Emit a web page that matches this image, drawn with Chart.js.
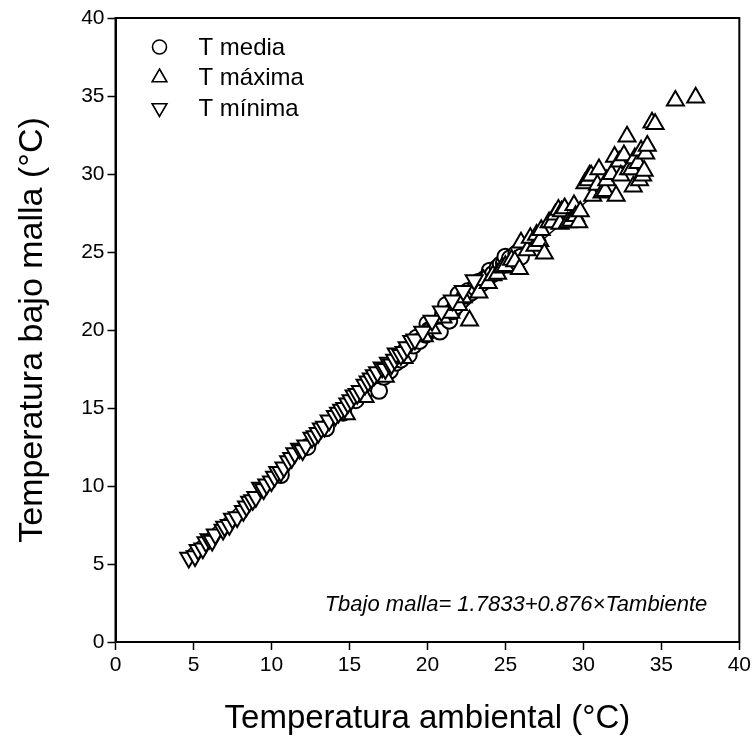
<!DOCTYPE html>
<html>
<head>
<meta charset="utf-8">
<script src="https://cdn.jsdelivr.net/npm/chart.js@4.4.0/dist/chart.umd.min.js"></script>
<style>
  html, body { margin: 0; padding: 0; background: #fff; }
</style>
</head>
<body>
<canvas id="grafica" width="754" height="748"></canvas>
<script>
// T media (circulos)
var mediaX = [10.6, 12.3, 13.5, 14.6, 15.4, 16.1, 16.5, 16.9, 17.2, 17.6, 18.0, 18.3, 18.6, 18.8, 19.1, 19.3,
              19.5, 19.9, 20.0, 20.1, 20.3, 20.5, 20.8, 21.0, 21.2, 21.4, 21.6, 21.8, 22.0, 22.1, 22.4, 22.6,
              22.8, 23.1, 23.3, 23.5, 23.7, 23.9, 24.0, 24.2, 24.5, 24.7, 24.9, 25.0, 25.3, 25.7, 26.0];
var mediaY = [10.7, 12.5, 13.7, 14.7, 15.5, 16.2, 16.6, 16.1, 17.0, 17.4, 17.9, 18.1, 18.7, 18.4, 19.0, 19.5,
              19.3, 19.7, 20.4, 20.0, 20.1, 20.3, 19.9, 21.0, 21.6, 20.6, 21.2, 21.5, 22.3, 21.8, 22.2, 22.5,
              22.4, 22.7, 23.1, 23.0, 23.3, 23.4, 23.8, 23.6, 24.0, 24.2, 24.3, 24.7, 24.6, 24.9, 24.7];

// T maxima (triangulos)
var maxX = [14.8, 16.0, 17.3, 18.5, 19.8, 20.3, 21.0, 21.5, 22.0, 22.3, 22.7, 23.3, 23.6, 23.9, 24.2, 24.5,
            24.8, 25.0, 25.4, 25.6, 25.9, 26.0, 26.4, 26.6, 26.9, 27.0, 27.2, 27.3, 27.5, 27.8, 28.0, 28.2,
            28.4, 28.5, 28.6, 28.8, 29.0, 29.2, 29.4, 29.5, 29.7, 29.8, 30.1, 30.3, 30.4, 30.5, 30.6, 30.9,
            31.0, 31.2, 31.4, 31.5, 31.8, 32.0, 32.1, 32.3, 32.4, 32.6, 32.8, 32.9, 33.1, 33.2, 33.3, 33.5,
            33.6, 33.7, 33.8, 33.9, 34.0, 34.1, 34.4, 34.6, 35.9, 37.2];
var maxY = [14.6, 15.7, 17.0, 18.2, 19.6, 20.1, 20.8, 21.1, 21.6, 22.1, 20.6, 22.4, 23.2, 23.0, 23.5, 23.6,
            24.0, 24.1, 24.5, 24.4, 23.9, 25.6, 25.1, 25.9, 25.4, 26.1, 25.7, 26.4, 24.9, 26.9, 26.9, 27.4,
            27.7, 26.8, 27.6, 27.8, 26.9, 27.0, 28.0, 27.3, 26.9, 27.6, 29.4, 29.6, 29.9, 29.9, 28.6, 29.3,
            30.3, 28.8, 28.9, 29.6, 30.0, 31.1, 28.6, 30.8, 29.9, 31.2, 32.4, 30.3, 30.3, 29.2, 31.0, 30.7,
            29.6, 31.5, 29.9, 30.2, 31.3, 31.8, 33.3, 33.2, 34.7, 34.9];

// T minima (triangulos invertidos)
var minX = [4.7, 5.1, 5.3, 5.6, 5.8, 6.0, 6.2, 6.4, 6.9, 7.0, 7.3, 7.5, 7.8, 8.2, 8.4, 8.6,
            8.8, 9.0, 9.3, 9.5, 9.7, 10.0, 10.2, 10.4, 10.6, 10.8, 11.1, 11.3, 11.5, 11.8, 12.0, 12.2,
            12.6, 12.8, 13.0, 13.2, 13.4, 13.7, 14.1, 14.3, 14.5, 14.7, 14.9, 15.1, 15.3, 15.5, 15.7, 16.0,
            16.2, 16.4, 16.6, 16.8, 17.1, 17.3, 17.5, 17.7, 17.9, 18.0, 18.3, 18.5, 18.7, 19.0, 19.2, 19.7,
            20.3, 20.9, 21.6, 22.3, 23.0];
var minY = [5.4, 5.5, 5.9, 6.0, 6.4, 6.6, 6.5, 6.9, 7.2, 7.4, 7.5, 7.9, 8.0, 8.4, 8.7, 9.0,
            9.1, 9.3, 9.9, 9.8, 10.1, 10.3, 10.6, 10.9, 10.9, 11.2, 11.6, 11.8, 12.1, 12.4, 12.3, 12.6,
            13.1, 13.2, 13.4, 13.7, 13.8, 14.2, 14.5, 14.7, 14.9, 15.0, 15.3, 15.5, 15.8, 15.9, 16.1, 16.5,
            16.7, 16.9, 17.1, 17.3, 17.6, 17.5, 17.9, 17.8, 18.1, 18.5, 18.4, 18.6, 18.9, 19.3, 19.4, 19.9,
            20.6, 21.2, 21.9, 22.5, 23.2];

// recta de regresion (extremos)
var rectaX = [4.6, 34.0];
var rectaY = [5.81, 31.57];

var ticksEjes = [0, 5, 10, 15, 20, 25, 30, 35, 40];
var ecuacion = 'Tbajo malla= 1.7833+0.876\u00D7Tambiente';
var etiquetas = ['T media', 'T m\u00E1xima', 'T m\u00EDnima'];

var fuente = '"Liberation Sans", Arial, sans-serif';

function puntos(xs, ys) {
    var r = [];
    for (var i = 0; i < xs.length; i++) r.push({ x: xs[i], y: ys[i] });
    return r;
}

function marcador(estilo, rot, radio) {
    return {
        showLine: false,
        pointStyle: estilo,
        rotation: rot,
        pointRadius: radio,
        pointBackgroundColor: '#fff',
        pointBorderColor: '#000',
        pointBorderWidth: 2
    };
}

var setMedia = Object.assign({ label: etiquetas[0], data: puntos(mediaX, mediaY) }, marcador('circle', 0, 8));
var setMax = Object.assign({ label: etiquetas[1], data: puntos(maxX, maxY) }, marcador('triangle', 0, 9.8));
var setMin = Object.assign({ label: etiquetas[2], data: puntos(minX, minY) }, marcador('triangle', 180, 9.8));

// marco, leyenda y ecuacion
var extras = {
    id: 'extras',
    afterDatasetsDraw: function(c) {
        var ctx = c.ctx, a = c.chartArea;
        ctx.save();
        ctx.strokeStyle = '#000';
        ctx.lineWidth = 2;
        ctx.strokeRect(a.left, a.top, a.right - a.left, a.bottom - a.top);

        var sets = [setMedia, setMax, setMin];
        var radios = [7, 8.5, 8.5];
        ctx.font = '24px ' + fuente;
        ctx.textBaseline = 'middle';
        for (var i = 0; i < sets.length; i++) {
            var yy = a.top + 29 + i * 30.5;
            ctx.fillStyle = '#fff';
            ctx.lineWidth = 1.6;
            Chart.helpers.drawPoint(ctx, {
                pointStyle: sets[i].pointStyle,
                rotation: sets[i].rotation,
                radius: radios[i],
                borderWidth: 1.6
            }, a.left + 44, yy);
            ctx.fillStyle = '#000';
            ctx.fillText(sets[i].label, a.left + 83, yy + 1);
        }

        ctx.font = 'italic 22px ' + fuente;
        ctx.textAlign = 'right';
        ctx.fillText(ecuacion, a.right - 32, a.bottom - 37);
        ctx.restore();
    }
};

var ctx = document.getElementById('grafica').getContext('2d');
var chart = new Chart(ctx, {
    type: 'scatter',
    data: {
        datasets: [
            setMin, setMax, setMedia,
            {
                label: 'recta',
                data: puntos(rectaX, rectaY),
                showLine: true,
                borderColor: '#000',
                borderWidth: 1.5,
                pointRadius: 0,
                order: 10
            }
        ]
    },
    options: {
        responsive: false,
        animation: false,
        layout: { padding: { top: 18, right: 13, left: 0, bottom: 0 } },
        plugins: {
            legend: { display: false },
            tooltip: { enabled: false }
        },
        scales: {
            x: {
                type: 'linear',
                min: 0,
                max: 40,
                afterBuildTicks: function(s) { s.ticks = ticksEjes.map(function(v) { return { value: v }; }); },
                afterFit: function(s) { s.height = 106; },
                grid: { drawOnChartArea: false, tickLength: 8, tickColor: '#000', tickWidth: 1.5 },
                border: { color: '#000', width: 2 },
                ticks: { color: '#000', padding: 3, maxRotation: 0, font: { family: fuente, size: 21 } },
                title: {
                    display: true,
                    text: 'Temperatura ambiental (\u00B0C)',
                    color: '#000',
                    font: { family: fuente, size: 33 },
                    padding: { top: 0, bottom: 9 }
                }
            },
            y: {
                type: 'linear',
                min: 0,
                max: 40,
                afterBuildTicks: function(s) { s.ticks = ticksEjes.map(function(v) { return { value: v }; }); },
                afterFit: function(s) { s.width = 115.5; },
                grid: { drawOnChartArea: false, tickLength: 8, tickColor: '#000', tickWidth: 1.5 },
                border: { color: '#000', width: 2 },
                ticks: { color: '#000', padding: 3, font: { family: fuente, size: 21 } },
                title: {
                    display: true,
                    text: 'Temperatura bajo malla (\u00B0C)',
                    color: '#000',
                    font: { family: fuente, size: 34 },
                    padding: { top: 12, bottom: 0 }
                }
            }
        }
    },
    plugins: [extras]
});
</script>
</body>
</html>
